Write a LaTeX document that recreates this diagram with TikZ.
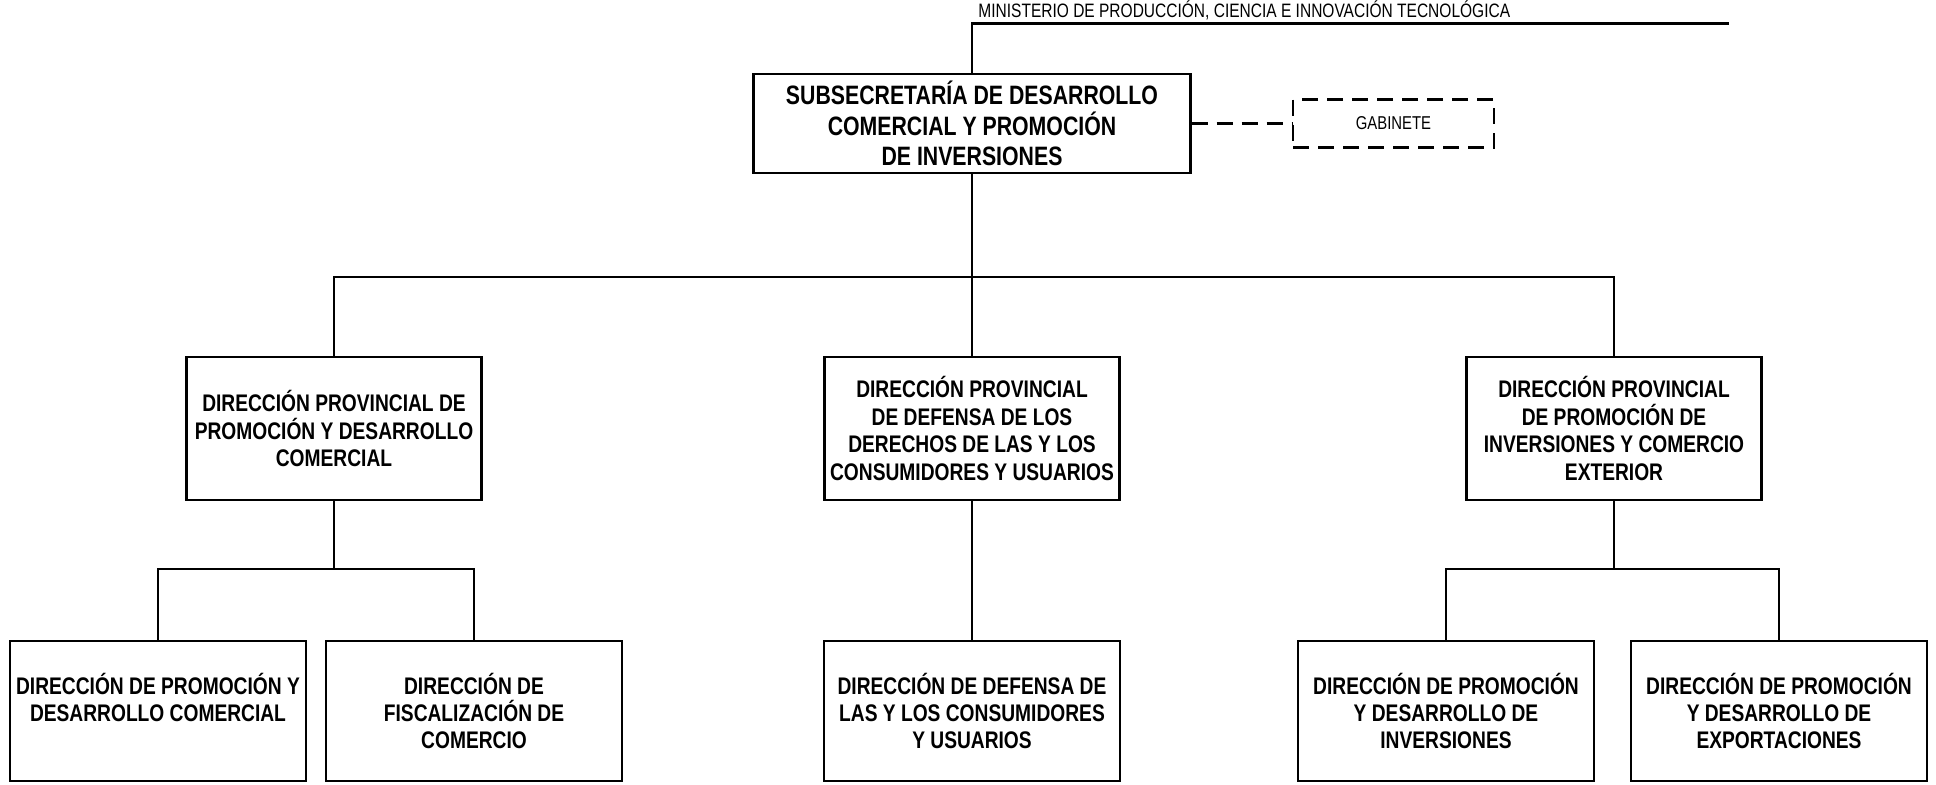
\documentclass[tikz,border=0pt]{standalone}
\usepackage{fontspec}
\setmainfont[FakeStretch=0.8]{Liberation Sans}
\usetikzlibrary{positioning}

\tikzset{
	unidad/.style={draw, line width=1.2pt, align=center, inner sep=1pt,
		font=\bfseries\fontsize{12}{13.7}\selectfont},
	provincial/.style={unidad, minimum width=147.5pt, minimum height=71.5pt},
	direccion/.style={unidad, minimum width=148pt, minimum height=70pt},
	linea/.style={line width=1.1pt},
	trazos/.style={dashed, dash pattern=on 8pt off 4.5pt},
}

\begin{document}
\begin{tikzpicture}[x=0.5pt,y=-0.5pt]
	\useasboundingbox (0,0) rectangle (1936,784);
		% cabecera
		\node (MIN) [anchor=base west, inner sep=0pt,
			font=\fontsize{9.7}{11}\selectfont] at (978,17)
			{MINISTERIO DE PRODUCCIÓN, CIENCIA E INNOVACIÓN TECNOLÓGICA};
		\coordinate (MINR) at (1729,23.5);
		\node (SUB) [unidad, minimum width=218.5pt, minimum height=49.5pt,
			font=\bfseries\fontsize{13.3}{15.2}\selectfont] at (972,123.5)
			{SUBSECRETARÍA DE DESARROLLO\\ COMERCIAL Y PROMOCIÓN\\ DE INVERSIONES};
		\node (GAB) [draw, trazos, line width=1.2pt,
			minimum width=100.5pt, minimum height=24pt,
			font=\fontsize{9.3}{10}\selectfont] at (1393.5,123.5)
			{GABINETE};
		% direcciones provinciales
		\node (DP1) [provincial] at (334,428.5)
			{DIRECCIÓN PROVINCIAL DE\\ PROMOCIÓN Y DESARROLLO\\ COMERCIAL};
		\node (DP2) [provincial] at (972,428.5)
			{DIRECCIÓN PROVINCIAL\\ DE DEFENSA DE LOS\\ DERECHOS DE LAS Y LOS\\ CONSUMIDORES Y USUARIOS};
		\node (DP3) [provincial] at (1614,428.5)
			{DIRECCIÓN PROVINCIAL\\ DE PROMOCIÓN DE\\ INVERSIONES Y COMERCIO\\ EXTERIOR};
		% direcciones
		\node (D1) [direccion] at (158,711)
			{DIRECCIÓN DE PROMOCIÓN Y\\ DESARROLLO COMERCIAL\\ \mbox{}};
		\node (D2) [direccion] at (474,711)
			{DIRECCIÓN DE\\ FISCALIZACIÓN DE\\ COMERCIO};
		\node (D3) [direccion] at (972,711)
			{DIRECCIÓN DE DEFENSA DE\\ LAS Y LOS CONSUMIDORES\\ Y USUARIOS};
		\node (D4) [direccion] at (1446,711)
			{DIRECCIÓN DE PROMOCIÓN\\ Y DESARROLLO DE\\ INVERSIONES};
		\node (D5) [direccion] at (1779,711)
			{DIRECCIÓN DE PROMOCIÓN\\ Y DESARROLLO DE\\ EXPORTACIONES};
		% conectores
		\coordinate (BUS) at (972,276.6);
		\coordinate (R1) at (334,569);
		\coordinate (R3) at (1614,569);
		\draw [linea] (SUB.north) |- (MINR);
		\draw [linea, trazos] (SUB.east) -- (GAB.west);
		\draw [linea] (SUB.south) -- (DP2.north);
		\draw [linea] (DP1.north) |- (BUS) -| (DP3.north);
		\draw [linea] (DP1.south) -- (R1);
		\draw [linea] (D1.north) |- (R1) -| (D2.north);
		\draw [linea] (DP2.south) -- (D3.north);
		\draw [linea] (DP3.south) -- (R3);
		\draw [linea] (D4.north) |- (R3) -| (D5.north);
	\end{tikzpicture}
\end{document}
